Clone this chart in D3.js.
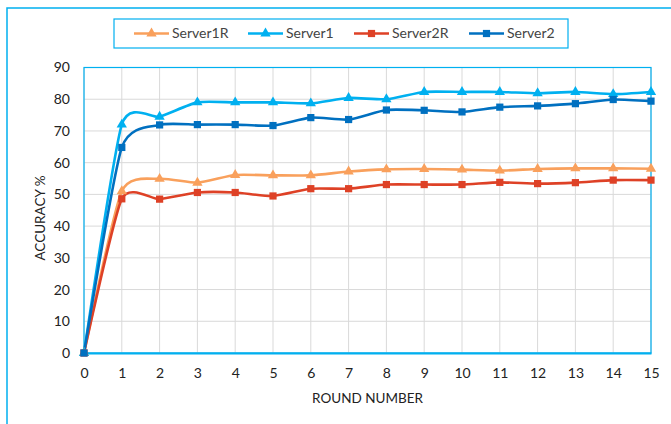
<!DOCTYPE html>
<html>
<head>
<meta charset="utf-8">
<script src="https://cdn.jsdelivr.net/npm/d3@7"></script>
<style>
body { margin: 0; background: #fff; }
svg { display: block; font-family: Lato, "Open Sans", sans-serif; }
</style>
</head>
<body>
<svg id="chart" width="671" height="424"></svg>
<script>
const rounds = [0,1,2,3,4,5,6,7,8,9,10,11,12,13,14,15];
const server1R = [0,51,54.9,53.7,56.1,56,56,57.2,57.9,58,57.8,57.5,58,58.2,58.2,58.1];
const server1  = [0,72,74.5,79,79,79,78.7,80.4,80,82.3,82.3,82.3,81.9,82.3,81.6,82.3];
const server2R = [0,48.6,48.5,50.6,50.6,49.5,51.8,51.8,53.1,53.1,53.1,53.8,53.4,53.7,54.5,54.5];
const server2  = [0,64.8,71.9,72,72,71.7,74.2,73.6,76.6,76.5,76,77.5,77.9,78.6,79.9,79.4];
const yTicks = [0,10,20,30,40,50,60,70,80,90];
const seriesNames = ["Server1R","Server1","Server2R","Server2"];
const seriesColors = ["#F9A05C","#00B0F0","#DE4126","#0070C0"];
const seriesMarkers = ["triangle","triangle","square","square"];
const seriesValues = [server1R, server1, server2R, server2];

const svg = d3.select("#chart");
const L = 84, R = 651, T = 67.5, B = 353;
const x = d3.scaleLinear().domain([0,15]).range([L,R]);
const y = d3.scaleLinear().domain([0,90]).range([B,T]);

// outer frame
svg.append("rect").attr("x",7).attr("y",8).attr("width",700).attr("height",450)
  .attr("fill","none").attr("stroke","#00B0F0").attr("stroke-width",1.5);

// grid
const g = svg.append("g");
g.selectAll("line.h").data(yTicks).join("line")
  .attr("x1",L).attr("x2",R).attr("y1",d=>y(d)).attr("y2",d=>y(d))
  .attr("stroke","#D9D9D9").attr("stroke-width",1);
g.selectAll("line.v").data(rounds).join("line")
  .attr("y1",T).attr("y2",B).attr("x1",d=>x(d)).attr("x2",d=>x(d))
  .attr("stroke","#D9D9D9").attr("stroke-width",1);

// plot border
svg.append("rect").attr("x",L).attr("y",T).attr("width",R-L).attr("height",B-T)
  .attr("fill","none").attr("stroke","#00B0F0").attr("stroke-width",1.2);

// axes
const xAxis = svg.append("g").attr("transform",`translate(0,${B})`)
  .call(d3.axisBottom(x).tickValues(rounds).tickSize(0).tickPadding(15));
xAxis.select(".domain").attr("stroke","#00B0F0").attr("stroke-width",2);
xAxis.selectAll("text").attr("font-size",14).attr("fill","#222").attr("font-family","Lato, sans-serif");

const yAxis = svg.append("g").attr("transform",`translate(${L},0)`)
  .call(d3.axisLeft(y).tickValues(yTicks).tickSize(0).tickPadding(14));
yAxis.select(".domain").remove();
yAxis.selectAll("text").attr("font-size",14).attr("fill","#222").attr("font-family","Lato, sans-serif");

svg.append("text").attr("x",(L+R)/2).attr("y",403).attr("text-anchor","middle")
  .attr("font-size",13.5).attr("fill","#222").text("ROUND NUMBER");
svg.append("text").attr("transform","translate(45,218) rotate(-90)").attr("text-anchor","middle")
  .attr("font-size",13.5).attr("fill","#222").text("ACCURACY %");

// lines
const line = d3.line().x((d,i)=>x(rounds[i])).y(d=>y(d)).curve(d3.curveCardinal.tension(0.4));
const tri = d3.symbol().type(d3.symbolTriangle).size(46);
const sq = d3.symbol().type(d3.symbolSquare).size(52);

seriesValues.forEach((vals,k)=>{
  svg.append("path").datum(vals).attr("d",line).attr("fill","none")
    .attr("stroke",seriesColors[k]).attr("stroke-width",2.6);
});
seriesValues.forEach((vals,k)=>{
  svg.append("g").selectAll("path").data(vals).join("path")
    .attr("transform",(d,i)=>`translate(${x(rounds[i])},${y(d)})`)
    .attr("d", seriesMarkers[k]==="triangle" ? tri : sq)
    .attr("fill",seriesColors[k]);
});

// legend
svg.append("rect").attr("x",114).attr("y",19).attr("width",454).attr("height",29)
  .attr("fill","#fff").attr("stroke","#00B0F0").attr("stroke-width",1.2);
const legX = [134, 248, 354, 469];
seriesNames.forEach((n,k)=>{
  const lg = svg.append("g").attr("transform",`translate(${legX[k]},33.5)`);
  lg.append("line").attr("x1",0).attr("x2",35).attr("stroke",seriesColors[k]).attr("stroke-width",2.6);
  lg.append("path").attr("transform","translate(17.5,0)")
    .attr("d", seriesMarkers[k]==="triangle" ? tri : sq).attr("fill",seriesColors[k]);
  lg.append("text").attr("x",38).attr("dy","0.35em").attr("font-size",14)
    .attr("fill","#444").text(n);
});
</script>
</body>
</html>
